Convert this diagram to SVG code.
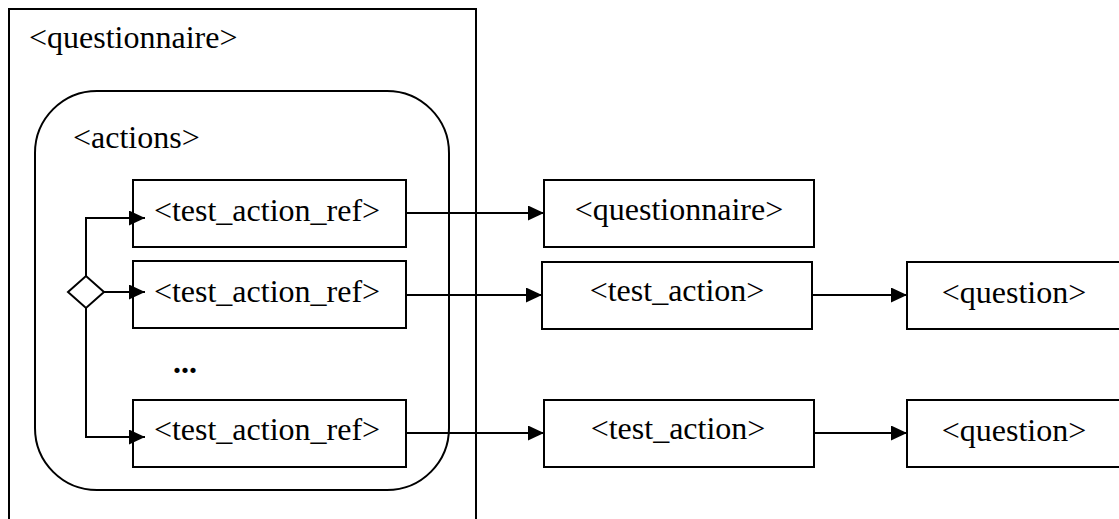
<svg xmlns="http://www.w3.org/2000/svg" width="1119" height="519" viewBox="0 0 1119 519">
<style>
.box{fill:#fff;stroke:#000;stroke-width:2}
.frame{fill:none;stroke:#000;stroke-width:2}
.ln{fill:none;stroke:#000;stroke-width:2}
.t{font-family:"Times New Roman",Times,Tinos,"Liberation Serif","Noto Serif","DejaVu Serif",serif;font-size:32px;fill:#000}
.c{text-anchor:middle}
</style>
<defs>
<marker id="ah" markerUnits="userSpaceOnUse" markerWidth="17" markerHeight="16" refX="16" refY="7.5" orient="auto">
<path d="M0,0 L16,7.5 L0,15 z" fill="#000"/>
</marker>
</defs>
<rect width="1119" height="519" fill="#fff"/>
<g id="questionnaire-outer">
<rect class="frame" x="9" y="9" width="467" height="530"/>
<text class="t" x="29" y="48">&lt;questionnaire&gt;</text>
</g>
<g id="actions">
<rect class="frame" x="35" y="91" width="414" height="399" rx="62" ry="62"/>
<text class="t" x="73" y="148">&lt;actions&gt;</text>
</g>
<g id="choice">
<path class="box" d="M68,292 L86,276 L104,292 L86,308 z"/>
</g>
<g id="ref1">
<rect class="box" x="133" y="180" width="273" height="67"/>
<text class="t c" x="267" y="221">&lt;test_action_ref&gt;</text>
</g>
<g id="ref2">
<rect class="box" x="133" y="261" width="273" height="67"/>
<text class="t c" x="267" y="302">&lt;test_action_ref&gt;</text>
</g>
<g id="ellipsis">
<text class="t c" font-weight="bold" x="185" y="373">...</text>
</g>
<g id="ref3">
<rect class="box" x="133" y="400" width="273" height="67"/>
<text class="t c" x="267" y="440">&lt;test_action_ref&gt;</text>
</g>
<g id="questionnaire-target">
<rect class="box" x="544" y="180" width="270" height="67"/>
<text class="t c" x="679" y="220">&lt;questionnaire&gt;</text>
</g>
<g id="test-action-1">
<rect class="box" x="542" y="262" width="270" height="67"/>
<text class="t c" x="677" y="301">&lt;test_action&gt;</text>
</g>
<g id="question-1">
<rect class="box" x="907" y="262" width="240" height="67"/>
<text class="t c" x="1014" y="303">&lt;question&gt;</text>
</g>
<g id="test-action-2">
<rect class="box" x="544" y="400" width="270" height="67"/>
<text class="t c" x="678" y="439">&lt;test_action&gt;</text>
</g>
<g id="question-2">
<rect class="box" x="907" y="400" width="240" height="67"/>
<text class="t c" x="1014" y="441">&lt;question&gt;</text>
</g>
<g id="connectors">
<path class="ln" d="M86,276 V218 H145" marker-end="url(#ah)"/>
<path class="ln" d="M104,292 H145" marker-end="url(#ah)"/>
<path class="ln" d="M86,308 V437 H145" marker-end="url(#ah)"/>
<path class="ln" d="M406,213 H544" marker-end="url(#ah)"/>
<path class="ln" d="M406,295 H542" marker-end="url(#ah)"/>
<path class="ln" d="M812,295 H907" marker-end="url(#ah)"/>
<path class="ln" d="M406,433 H544" marker-end="url(#ah)"/>
<path class="ln" d="M814,433 H907" marker-end="url(#ah)"/>
</g>
</svg>
